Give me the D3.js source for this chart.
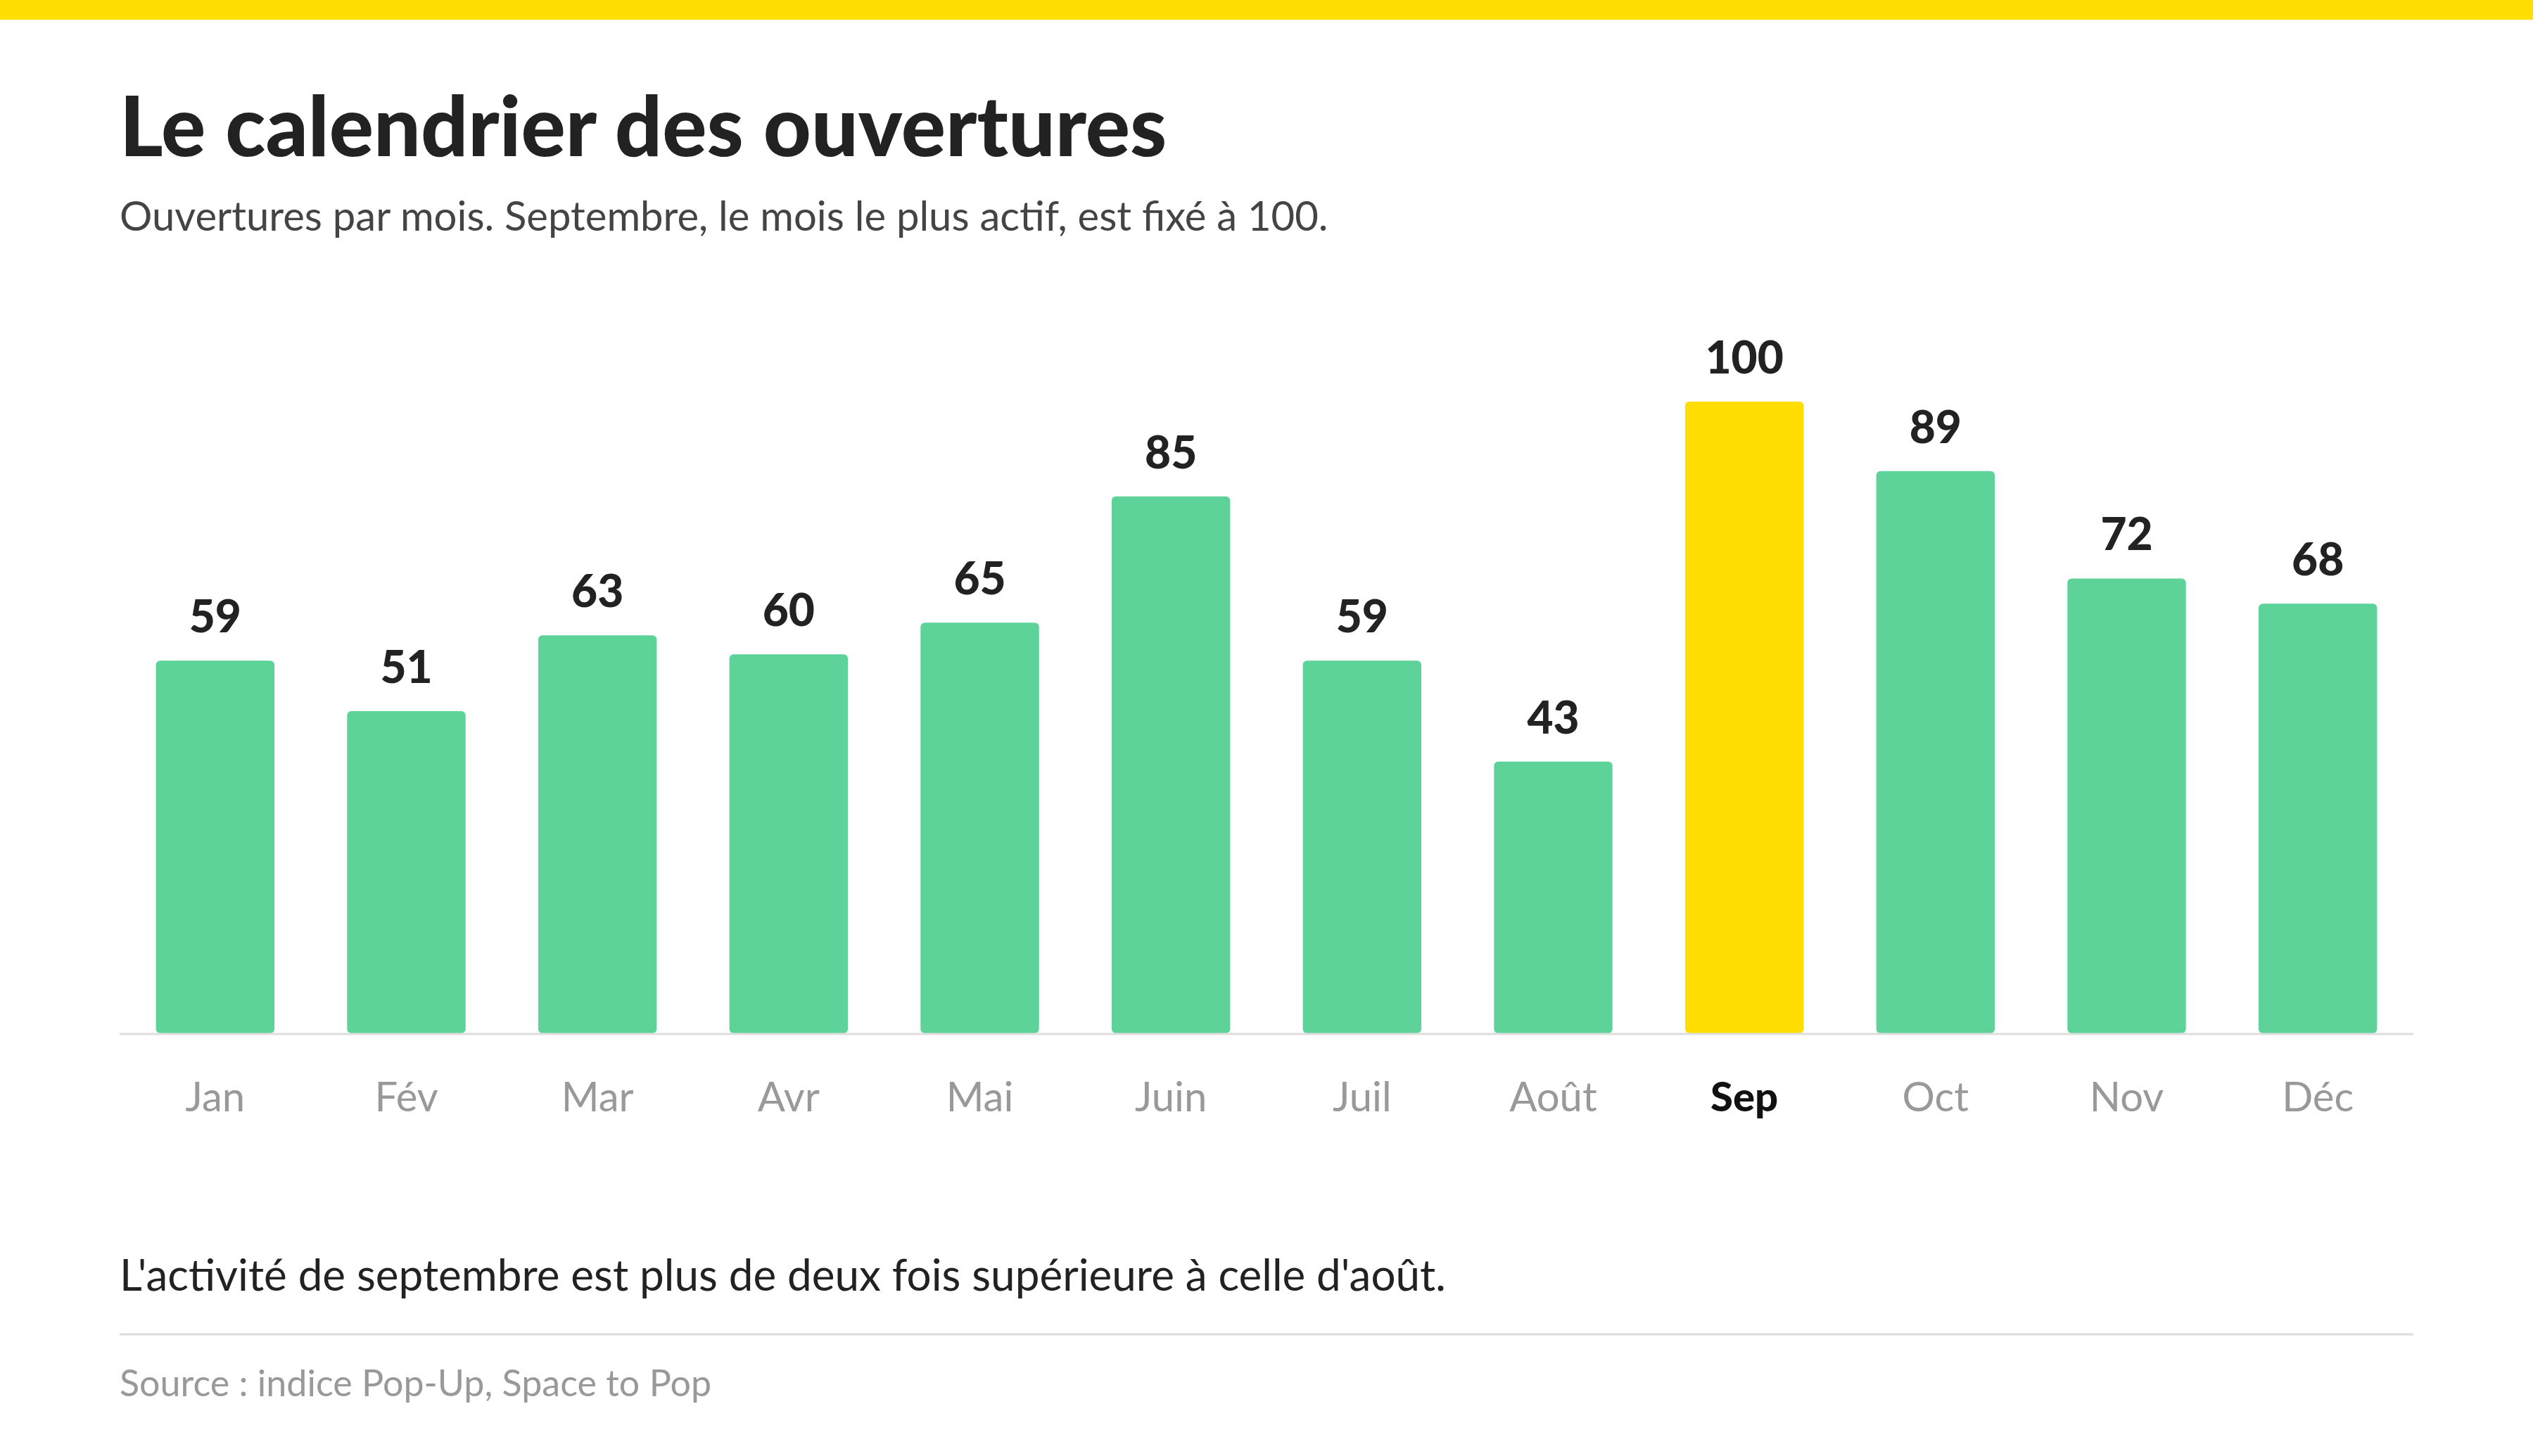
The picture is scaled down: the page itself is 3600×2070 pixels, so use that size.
<!DOCTYPE html>
<html><head><meta charset="utf-8">
<script src="https://cdn.jsdelivr.net/npm/d3@7"></script>
<style>body{margin:0;background:#fff}text{font-family:Lato,"Noto Sans",sans-serif}</style>
</head><body><svg id="c" width="3600" height="2070"></svg>
<script>
var months = ['Jan','Fév','Mar','Avr','Mai','Juin','Juil','Août','Sep','Oct','Nov','Déc'];
var values = [59,51,63,60,65,85,59,43,100,89,72,68];
var highlight = 'Sep';

var svg = d3.select('#c');
var left = 170, right = 3430, base = 1469, top100 = 571;

svg.append('rect').attr('width',3600).attr('height',28).attr('fill','#FFDD00');
svg.append('text').attr('x',left).attr('y',222).attr('font-size',118).attr('font-weight',900).attr('fill','#222').text('Le calendrier des ouvertures');
svg.append('text').attr('x',left).attr('y',328).attr('font-size',58).attr('fill','#444').text('Ouvertures par mois. Septembre, le mois le plus actif, est fixé à 100.');

var x = d3.scaleBand().domain(months).range([left,right]).paddingInner(0.38).paddingOuter(0.19);
var y = d3.scaleLinear().domain([0,100]).range([base,top100]);

svg.append('g').selectAll('rect').data(values).join('rect')
  .attr('x',(d,i)=>x(months[i])).attr('width',x.bandwidth())
  .attr('y',d=>y(d)).attr('height',d=>base-y(d)).attr('rx',6)
  .attr('fill',(d,i)=>months[i]===highlight?'#FFDD00':'#5DD39A');

svg.append('g').selectAll('text').data(values).join('text')
  .attr('x',(d,i)=>x(months[i])+x.bandwidth()/2).attr('y',d=>y(d)-40)
  .attr('text-anchor','middle').attr('font-size',64).attr('font-weight',900).attr('fill','#222').text(d=>d);

svg.append('line').attr('x1',left).attr('x2',right).attr('y1',base+1).attr('y2',base+1).attr('stroke','#ddd').attr('stroke-width',3);

var ax = svg.append('g').attr('transform','translate(0,'+base+')').call(d3.axisBottom(x).tickSize(0).tickPadding(70));
ax.select('.domain').remove();
ax.selectAll('text').attr('font-size',58).attr('font-family','Lato,"Noto Sans",sans-serif')
  .attr('fill',d=>d===highlight?'#111':'#999').attr('font-weight',d=>d===highlight?900:400);

svg.append('text').attr('x',left).attr('y',1835).attr('font-size',62).attr('fill','#222').text("L'activité de septembre est plus de deux fois supérieure à celle d'août.");
svg.append('line').attr('x1',left).attr('x2',right).attr('y1',1897).attr('y2',1897).attr('stroke','#ddd').attr('stroke-width',3);
svg.append('text').attr('x',left).attr('y',1985).attr('font-size',52).attr('fill','#999').text('Source : indice Pop-Up, Space to Pop');
</script></body></html>
